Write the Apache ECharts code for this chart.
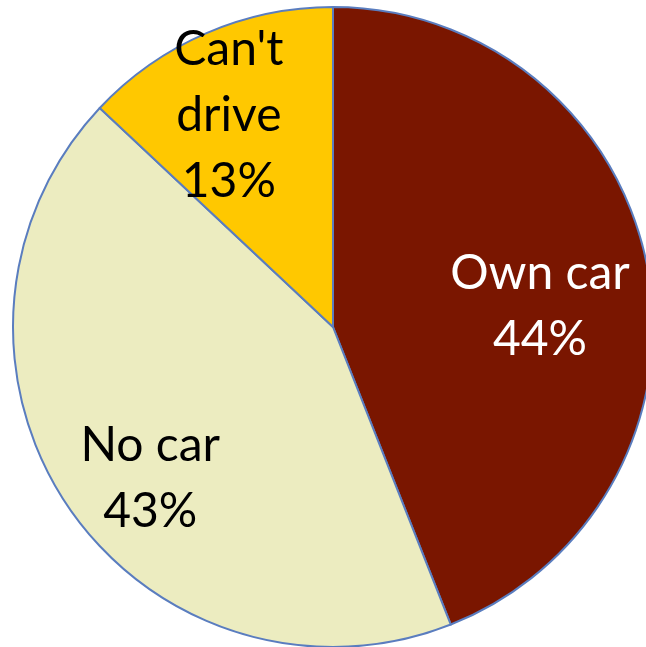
<!DOCTYPE html>
<html>
<head>
<meta charset="utf-8">
<script src="https://cdn.jsdelivr.net/npm/echarts@6/dist/echarts.min.js"></script>
<style>
  html, body { margin: 0; padding: 0; background: #ffffff; }
  #chart { width: 646px; height: 647px; }
</style>
</head>
<body>
<div id="chart"></div>
<script>
// Share of respondents by car access
const categories = ["Own car", "No car", "Can't drive"];
const shares = [44, 43, 13];
const sliceColors = ["#7A1600", "#ECECC0", "#FFC800"];
const labelColors = ["#ffffff", "#000000", "#000000"];
// small per-label nudges (px) applied after ECharts places the inside labels
const labelNudge = [[-16, 22], [5, 24], [-14, -3]];

const center = [333, 327];
const outerR = 320;

const chart = echarts.init(document.getElementById('chart'), null, { renderer: 'canvas' });

const sliceData = categories.map((name, i) => ({
  name,
  value: shares[i],
  itemStyle: { color: sliceColors[i] }
}));

const labelData = categories.map((name, i) => ({
  name,
  value: shares[i],
  label: { color: labelColors[i] }
}));

chart.setOption({
  animation: false,
  series: [
    {
      // filled slices with blue outlines
      type: 'pie',
      center: center,
      radius: [0, outerR],
      startAngle: 90,
      clockwise: true,
      label: { show: false },
      labelLine: { show: false },
      itemStyle: { borderColor: '#5A7DBF', borderWidth: 2 },
      emphasis: { disabled: true },
      data: sliceData
    },
    {
      // transparent ring carrying the category/percent labels further out
      type: 'pie',
      center: center,
      radius: [outerR * 0.40, outerR],
      startAngle: 90,
      clockwise: true,
      silent: true,
      itemStyle: { color: 'transparent', borderWidth: 0 },
      labelLine: { show: false },
      emphasis: { disabled: true },
      label: {
        show: true,
        position: 'inside',
        fontFamily: 'Lato',
        fontSize: 48,
        lineHeight: 66,
        formatter: p => {
          const words = p.name === "Can't drive" ? "Can't\ndrive" : p.name;
          return words + '\n' + p.value + '%';
        }
      },
      labelLayout: params => ({
        dx: labelNudge[params.dataIndex][0],
        dy: labelNudge[params.dataIndex][1]
      }),
      data: labelData
    }
  ]
});
</script>
</body>
</html>
